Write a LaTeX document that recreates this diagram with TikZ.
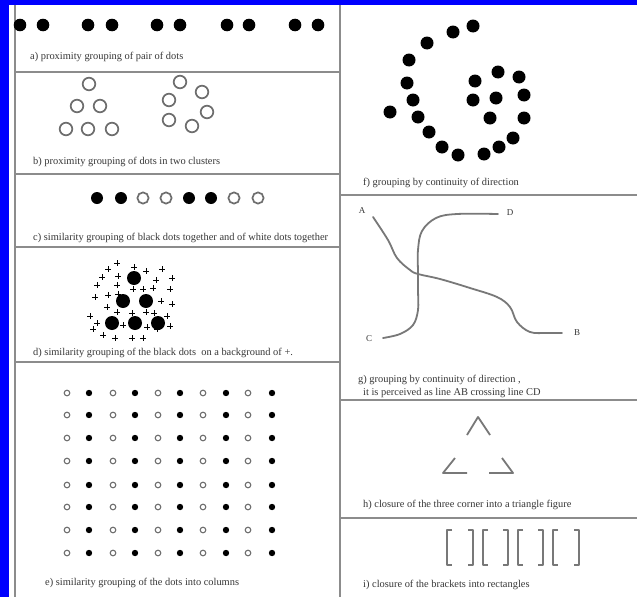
\documentclass[tikz,border=0pt]{standalone}
\usepackage{fontspec}
\setmainfont{Liberation Serif}
\usetikzlibrary{positioning}

\begin{document}
\begin{tikzpicture}[
  x=1pt, y=-1pt,
  rule/.style={line width=2.4pt, draw=rulegray},
  caption/.style={font=\fontsize{10.4}{12}\selectfont, text=captiongray, anchor=west, inner sep=0pt},
  letter/.style={font=\fontsize{9}{10}\selectfont, text=captiongray, inner sep=0pt},
  bigdot/.style={fill=black},
  ring/.style={draw=ringgray, line width=1.7pt, fill=white},
  smallring/.style={draw=ringgray, line width=1.1pt, fill=white},
  plusmark/.style={draw=black, line width=0.9pt},
  stroke/.style={draw=strokegray, line width=1.8pt, line cap=round, line join=round}
]

\definecolor{framelblue}{RGB}{0,0,255}
\definecolor{rulegray}{RGB}{140,140,140}
\definecolor{captiongray}{RGB}{55,55,55}
\definecolor{ringgray}{RGB}{110,110,110}
\definecolor{strokegray}{RGB}{120,120,120}

\useasboundingbox (0,0) rectangle (637,597);
\fill[white] (0,0) rectangle (637,597);

% blue frame on the top and left edges only
\fill[framelblue] (0,0) rectangle (637,5);
\fill[framelblue] (0,0) rectangle (9,597);

% panel rules
\draw[rule] (15,5) -- (15,597);
\draw[rule] (340,5) -- (340,597);
\foreach \y in {72,174,247,362} {
  \draw[rule] (15,\y) -- (340,\y);
}
\foreach \y in {195,400,518} {
  \draw[rule] (340,\y) -- (637,\y);
}

% a) pairs of dots
\foreach \x in {20,43,88,112,157,180,227,249,295,318} {
  \fill[bigdot] (\x,25) circle (6.3);
}
\node[caption] (capa) at (30,57) {a) proximity grouping of pair of dots};

% b) two clusters of rings
\foreach \x/\y in {89/84,77/106,100/106,66/129,88/129,112/129,
                   180/82,202/92,169/100,207/112,169/120,192/126} {
  \draw[ring] (\x,\y) circle (6.3);
}
\node[caption] (capb) at (33,162) {b) proximity grouping of dots in two clusters};

% c) black and white in a row
\foreach \x in {97,121,189,211} {
  \fill[bigdot] (\x,198) circle (6);
}
\foreach \x in {143,166,234,258} {
  \draw[ring] (\x,198) circle (5.6);
}
\node[caption] (capc) at (33,238) {c) similarity grouping of black dots together and of white dots together};

% d) black dots among plus signs
\foreach \x/\y in {117/263,108/269,134/267,146/271,162/269,102/277,118/276,
                   156/280,172/278,97/285,117/285,133/289,143/289,153/288,
                   170/289,95/297,108/295,118/294,161/301,107/307,172/304,
                   117/312,132/313,146/312,154/313,90/316,167/316,97/323,
                   123/325,147/327,170/326,93/329,103/335,115/338,132/338,
                   143/338,157/329} {
  \draw[plusmark] (\x-2.6,\y) -- (\x+2.6,\y) (\x,\y-2.6) -- (\x,\y+2.6);
}
\foreach \x/\y in {134/278,123/301,146/301,112/323,135/323,158/323} {
  \fill[bigdot] (\x,\y) circle (7);
}
\node[caption] (capd) at (33,353) {d) similarity grouping of the black dots\ \ on a background of +.};

% e) grid of alternating columns
\foreach \y in {393,415,438,461,485,507,530,553} {
  \foreach \x in {67,113,158,203,248} {
    \draw[smallring] (\x,\y) circle (2.8);
  }
  \foreach \x in {89,135,180,226,272} {
    \fill[bigdot] (\x,\y) circle (3.2);
  }
}
\node[caption] (cape) at (45,583) {e) similarity grouping of the dots into columns};

% f) spiral of dots
\foreach \x/\y in {473/26,453/32,427/43,409/60,407/83,413/100,390/112,418/117,
                   429/132,442/147,458/155,484/154,499/147,513/138,524/118,
                   524/95,519/77,498/72,475/81,473/100,496/98,490/118} {
  \fill[bigdot] (\x,\y) circle (6.5);
}
\node[caption] (capf) at (363,183) {f) grouping by continuity of direction};

% g) two crossing lines
\node[letter] (ptA) at (362,211) {A};
\node[letter] (ptD) at (510,213) {D};
\node[letter] (ptB) at (577,333) {B};
\node[letter] (ptC) at (369,339) {C};
\draw[stroke] plot[smooth, tension=0.6] coordinates {
  (373,217) (388,240) (397,258) (410,270) (418,274) (440,279)
  (470,288) (497,297) (510,307) (517,322) (530,332) (547,333) (562,333)};
\draw[stroke] plot[smooth, tension=0.6] coordinates {
  (383,338) (400,334) (413,325) (418,310) (418,290) (418,273)
  (418,250) (422,231) (436,218) (457,214) (498,214)};
\node[caption] (capg) at (358,380) {g) grouping by continuity of direction ,};
\node[caption, anchor=north west, below right=3pt and 5pt of capg.south west]
  (capgb) {it is perceived as line AB crossing line CD};

% h) three corners of a triangle
\draw[stroke, line cap=butt] (467,435) -- (478,417) -- (490,435);
\draw[stroke, line cap=butt] (455,458) -- (443,473) -- (467,473);
\draw[stroke, line cap=butt] (502,458) -- (513,473) -- (489,473);
\node[caption] (caph) at (363,505) {h) closure of the three corner into a triangle figure};

% i) brackets
\foreach \x in {447,483,518,553} {
  \draw[stroke, line cap=butt, line width=1.5pt] (\x+5,530) -- (\x,530) -- (\x,565) -- (\x+5,565);
}
\foreach \x in {473,508,543,579} {
  \draw[stroke, line cap=butt, line width=1.5pt] (\x-5,530) -- (\x,530) -- (\x,565) -- (\x-5,565);
}
\node[caption] (capi) at (363,585) {i) closure of the brackets into rectangles};

\end{tikzpicture}
\end{document}
